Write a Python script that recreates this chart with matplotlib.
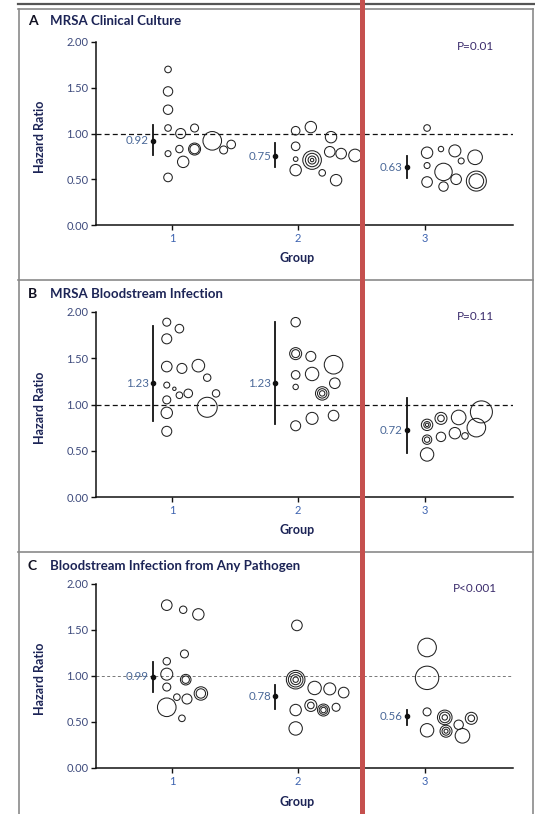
import matplotlib
matplotlib.use("Agg")
import matplotlib.pyplot as plt
from matplotlib.lines import Line2D
import numpy as np

plt.rcParams['font.family'] = ['Lato', 'DejaVu Sans']

# --- DATA (x position, hazard ratio, bubble radius in px)
groups = [1, 2, 3]
group_labels = ["1", "2", "3"]
yticks = [0.0, 0.5, 1.0, 1.5, 2.0]
ytick_labels = ["0.00", "0.50", "1.00", "1.50", "2.00"]

titles = ["MRSA Clinical Culture", "MRSA Bloodstream Infection",
          "Bloodstream Infection from Any Pathogen"]
letters = ["A", "B", "C"]
pvalues = ["P=0.01", "P=0.11", "P<0.001"]

# pooled estimates with 95% CI
est_x = [0.85, 1.82, 2.86]
est_A = [0.92, 0.75, 0.63]
lo_A = [0.77, 0.63, 0.51]
hi_A = [1.09, 0.90, 0.75]
est_B = [1.23, 1.23, 0.72]
lo_B = [0.82, 0.79, 0.48]
hi_B = [1.85, 1.89, 1.07]
est_C = [0.99, 0.78, 0.56]
lo_C = [0.83, 0.64, 0.47]
hi_C = [1.15, 0.90, 0.63]

# individual hospitals
bx_A = [0.97, 0.97, 0.97, 0.97, 1.07, 1.18, 0.97, 1.06, 1.09, 1.18, 1.18, 1.32, 1.41, 1.47, 0.97,
        1.98, 2.10, 2.26, 1.98, 1.98, 2.11, 2.11, 2.11, 2.11, 2.25, 2.34, 2.45, 1.98, 2.19, 2.30,
        3.02, 3.02, 3.13, 3.24, 3.29, 3.40, 3.02, 3.15, 3.02, 3.15, 3.25, 3.41, 3.41]
by_A = [1.70, 1.46, 1.26, 1.06, 1.00, 1.06, 0.78, 0.83, 0.69, 0.83, 0.83, 0.92, 0.82, 0.88, 0.52,
        1.03, 1.07, 0.96, 0.86, 0.72, 0.71, 0.71, 0.71, 0.71, 0.80, 0.78, 0.76, 0.60, 0.57, 0.49,
        1.06, 0.79, 0.83, 0.81, 0.70, 0.74, 0.65, 0.58, 0.47, 0.42, 0.50, 0.48, 0.48]
br_A = [3.3, 4.7, 4.7, 3.3, 5.0, 4.0, 3.0, 3.7, 5.7, 6.0, 4.7, 9.3, 4.0, 4.3, 4.3,
        4.3, 5.7, 5.7, 4.3, 2.3, 9.3, 6.7, 4.0, 1.7, 5.3, 5.3, 6.3, 5.7, 3.3, 5.7,
        3.3, 5.7, 2.7, 6.0, 3.0, 7.3, 3.0, 8.7, 5.3, 4.7, 5.3, 10.0, 7.3]

bx_B = [0.96, 1.06, 0.96, 0.96, 1.08, 1.21, 1.28, 0.96, 1.02, 1.06, 1.13, 1.35, 0.96, 0.96, 1.28, 0.96,
        1.98, 1.98, 1.98, 2.10, 2.28, 1.98, 2.11, 1.98, 2.29, 2.19, 2.19, 2.19, 1.98, 2.11, 2.28,
        3.02, 3.02, 3.02, 3.13, 3.13, 3.27, 3.45, 3.41, 3.02, 3.02, 3.13, 3.24, 3.32, 3.02]
by_B = [1.89, 1.82, 1.71, 1.41, 1.39, 1.42, 1.29, 1.21, 1.17, 1.10, 1.12, 1.12, 1.05, 0.91, 0.97, 0.71,
        1.89, 1.55, 1.55, 1.52, 1.43, 1.32, 1.33, 1.19, 1.23, 1.12, 1.12, 1.12, 0.77, 0.85, 0.88,
        0.78, 0.78, 0.78, 0.85, 0.85, 0.86, 0.92, 0.75, 0.62, 0.62, 0.65, 0.69, 0.66, 0.46]
br_B = [4.0, 4.3, 5.0, 5.3, 5.0, 6.3, 3.7, 3.0, 1.7, 3.3, 4.3, 3.7, 4.0, 5.7, 10.0, 5.0,
        4.7, 6.0, 4.0, 5.0, 9.3, 4.3, 6.7, 2.7, 5.3, 6.7, 4.7, 2.7, 5.0, 6.0, 5.3,
        5.7, 3.3, 1.7, 6.0, 3.3, 7.3, 11.0, 9.3, 4.7, 2.7, 4.7, 5.7, 3.3, 6.7]

bx_C = [0.96, 1.09, 1.21, 1.10, 0.96, 0.96, 1.11, 1.11, 0.96, 1.04, 1.12, 1.23, 1.23, 0.96, 1.08,
        1.99, 1.98, 1.98, 1.98, 1.98, 2.13, 2.25, 2.36, 1.98, 2.10, 2.10, 2.20, 2.20, 2.20, 2.30, 1.98,
        3.02, 3.02, 3.02, 3.16, 3.16, 3.16, 3.27, 3.37, 3.37, 3.02, 3.17, 3.17, 3.17, 3.30]
by_C = [1.77, 1.72, 1.67, 1.24, 1.16, 1.02, 0.96, 0.96, 0.88, 0.77, 0.75, 0.81, 0.81, 0.66, 0.54,
        1.55, 0.96, 0.96, 0.96, 0.96, 0.87, 0.86, 0.82, 0.63, 0.68, 0.68, 0.63, 0.63, 0.63, 0.66, 0.43,
        1.31, 0.98, 0.61, 0.55, 0.55, 0.55, 0.47, 0.54, 0.54, 0.41, 0.40, 0.40, 0.40, 0.35]
br_C = [5.3, 3.7, 5.7, 4.0, 3.7, 6.0, 5.3, 3.7, 4.0, 3.3, 5.0, 6.7, 4.7, 9.3, 3.3,
        5.3, 9.3, 7.3, 5.0, 2.7, 6.7, 6.0, 5.3, 5.7, 6.0, 3.3, 6.0, 4.3, 2.7, 4.0, 6.7,
        9.3, 11.7, 4.0, 7.3, 5.3, 2.7, 4.7, 6.0, 3.3, 6.7, 6.0, 4.0, 2.0, 7.3]

panels = [
    (bx_A, by_A, br_A, est_A, lo_A, hi_A),
    (bx_B, by_B, br_B, est_B, lo_B, hi_B),
    (bx_C, by_C, br_C, est_C, lo_C, hi_C),
]

W, H = 535, 814
navy = "#1c2456"
tickcol = "#3d4a7c"
valcol = "#4a6898"
pcol = "#3b2c6c"
px = 0.72  # points per pixel at 100 dpi

fig = plt.figure(figsize=(W / 100, H / 100), dpi=100)
fig.patch.set_facecolor("white")


def fx(x):
    return x / W


def fy(y):
    return 1 - y / H


# --- AXES LAYOUT (pixel top/bottom of each plot area)
ax_top = [42, 312, 584]
ax_bot = [225, 497, 768]
title_y = [21, 294, 566]
group_y = [258, 530, 802]

for i, (bx, by, br, est, lo, hi) in enumerate(panels):
    ax = fig.add_axes([fx(96), fy(ax_bot[i]), fx(513 - 96), (ax_bot[i] - ax_top[i]) / H])
    ax.set_xlim(0.4, 3.7)
    ax.set_ylim(0, 2)
    for s in ["top", "right"]:
        ax.spines[s].set_visible(False)
    for s in ["left", "bottom"]:
        ax.spines[s].set_linewidth(1.1)
        ax.spines[s].set_color("#111111")
    ax.set_xticks(groups)
    ax.set_xticklabels(group_labels)
    ax.set_yticks(yticks)
    ax.set_yticklabels(ytick_labels)
    ax.tick_params(axis="both", length=3.5, width=1.0, color="#111111",
                   labelsize=8, labelcolor=tickcol, pad=2)
    ax.tick_params(axis="x", labelcolor="#3d63b0", pad=2)

    # reference line at HR = 1
    if i < 2:
        ax.axhline(1.0, color="#111111", lw=0.9, ls=(0, (4, 2.5)), zorder=1)
    else:
        ax.axhline(1.0, color="#777777", lw=0.7, ls=(0, (3, 2.5)), zorder=1)

    # hospital bubbles
    sizes = [(2 * r * px) ** 2 for r in br]
    ax.scatter(bx, by, s=sizes, facecolors="none", edgecolors="#222222",
               linewidths=0.75, zorder=3)

    # pooled estimate with CI
    for g in range(3):
        ax.plot([est_x[g], est_x[g]], [lo[g], hi[g]], color="#111111", lw=1.3, zorder=4)
        ax.plot(est_x[g], est[g], "o", color="#111111", ms=3, zorder=5)
        ax.annotate("%.2f" % est[g], (est_x[g], est[g]), xytext=(-3, 0),
                    textcoords="offset points", ha="right", va="center",
                    fontsize=8.3, color=valcol, zorder=6)

    # titles, labels
    fig.text(fx(28), fy(title_y[i]), letters[i], fontsize=10, fontweight="bold",
             color="#111122", va="center", ha="left")
    fig.text(fx(50), fy(title_y[i]), titles[i], fontsize=9.5, fontweight="bold",
             color=navy, va="center", ha="left")
    fig.text(fx(475), fy(ax_top[i] + 4), pvalues[i], fontsize=8.5, color=pcol,
             va="center", ha="center")
    fig.text(fx(297), fy(group_y[i]), "Group", fontsize=9, fontweight="bold",
             color=navy, va="center", ha="center")
    fig.text(fx(40), fy((ax_top[i] + ax_bot[i]) / 2 + 3), "Hazard Ratio", fontsize=9,
             fontweight="bold", color=navy, rotation=90, va="center", ha="center")

# --- FRAME LINES
grey = "#8a8a8a"
frame = [
    ([18, 535], [4, 4], "#555555", 1.6),
    ([18.5, 18.5], [9, 814], grey, 1.2),
    ([533, 533], [9, 814], grey, 1.2),
    ([18, 533], [9, 9], grey, 1.2),
    ([18, 533], [280, 280], grey, 1.2),
    ([18, 533], [552, 552], grey, 1.2),
]
for xs, ys, c, lw in frame:
    fig.add_artist(Line2D([fx(v) for v in xs], [fy(v) for v in ys], color=c, lw=lw))

# red marker line
fig.add_artist(Line2D([fx(362), fx(362)], [0, 1], color="#c5504e", lw=3.6, zorder=10))

plt.savefig("out.png", dpi=100)
